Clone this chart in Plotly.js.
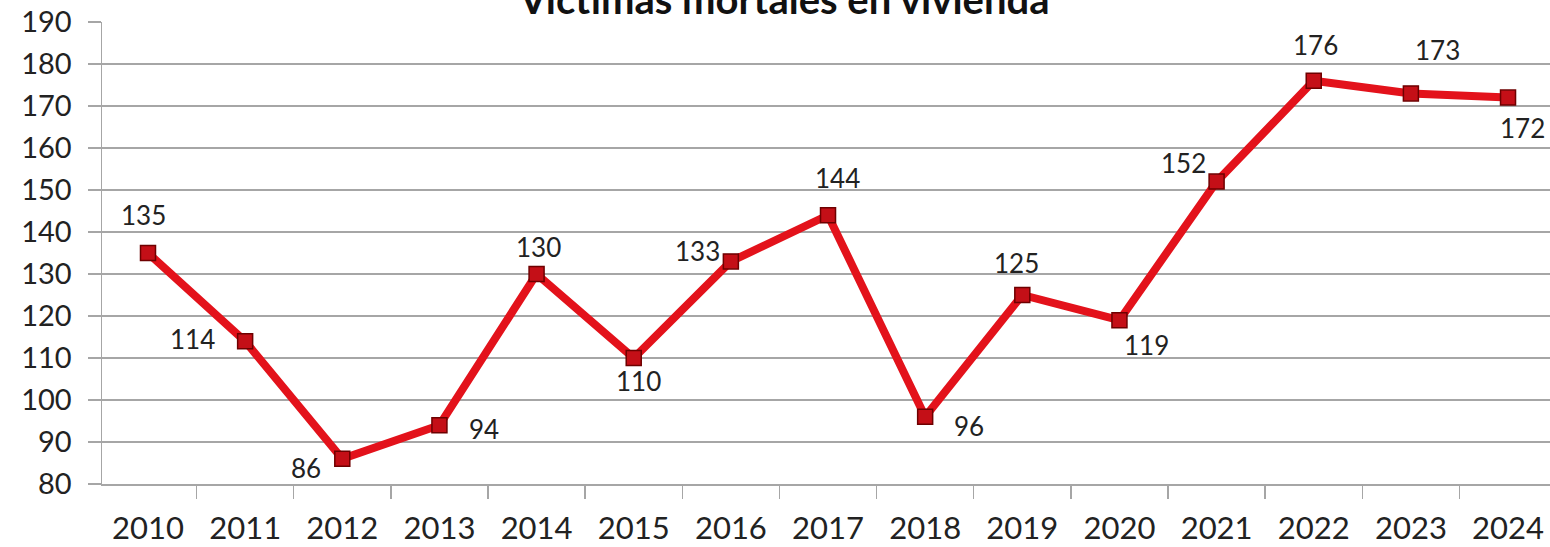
<!DOCTYPE html>
<html>
<head>
<meta charset="utf-8">
<script src="https://cdn.plot.ly/plotly-3.0.1.min.js"></script>
<style>html,body{margin:0;padding:0;background:#fff;}#chart{width:1550px;height:547px;}</style>
</head>
<body>
<div id="chart"></div>
<script>
const years = ['2010','2011','2012','2013','2014','2015','2016','2017','2018','2019','2020','2021','2022','2023','2024'];
const victims = [135,114,86,94,130,110,133,144,96,125,119,152,176,173,172];
const titleText = 'Víctimas mortales en vivienda';
// label pixel offsets (style only)
const labelDx = [-5,-53,-36,45,2,5,-33,9,44,-6,27,-33,2,27,14];
const labelDy = [38,2,-9,-4,27,-23,10,37,-9,32,-25,19,36,43,-30];

const FONT = 'Lato, "Open Sans", sans-serif';

const trace = {
  x: years,
  y: victims,
  type: 'scatter',
  mode: 'lines+markers',
  line: {color: '#e3121b', width: 8},
  marker: {symbol: 'square', size: 15, color: '#c40f17', line: {color: '#6e0000', width: 1.5}},
  hoverinfo: 'x+y'
};

const annotations = years.map((yr, i) => ({
  x: i, y: victims[i], xref: 'x', yref: 'y',
  text: String(victims[i]), showarrow: false,
  xanchor: 'center', yanchor: 'middle',
  xshift: labelDx[i], yshift: labelDy[i],
  font: {family: FONT, size: 26, color: '#222'}
}));

const layout = {
  width: 1550, height: 547,
  margin: {l: 102, r: 0, t: 22, b: 63, pad: 0},
  paper_bgcolor: '#ffffff', plot_bgcolor: '#ffffff',
  showlegend: false,
  title: {text: '<b>' + titleText + '</b>', font: {family: FONT, size: 40, color: '#111'},
          xref: 'container', yref: 'container', x: 0.506, xanchor: 'center', y: 1, yanchor: 'middle'},
  xaxis: {
    type: 'category', range: [-0.4735, 14.432],
    showgrid: false, zeroline: false,
    showline: true, linecolor: '#a6a6a6', linewidth: 1.5,
    ticks: 'outside', tickson: 'boundaries', ticklen: 13, tickcolor: '#a6a6a6', tickwidth: 1.5,
    ticklabelstandoff: 16,
    tickfont: {family: FONT, size: 31, color: '#222'}
  },
  yaxis: {
    range: [80, 190], dtick: 10, tick0: 80,
    showgrid: true, gridcolor: '#a6a6a6', gridwidth: 1.2,
    zeroline: false,
    showline: true, linecolor: '#a6a6a6', linewidth: 1.5,
    ticks: 'outside', ticklen: 13, tickcolor: '#a6a6a6', tickwidth: 1.5,
    ticklabelstandoff: 10,
    tickfont: {family: FONT, size: 29, color: '#222'}
  },
  annotations: annotations
};

Plotly.newPlot('chart', [trace], layout, {staticPlot: true, displayModeBar: false});
</script>
</body>
</html>
